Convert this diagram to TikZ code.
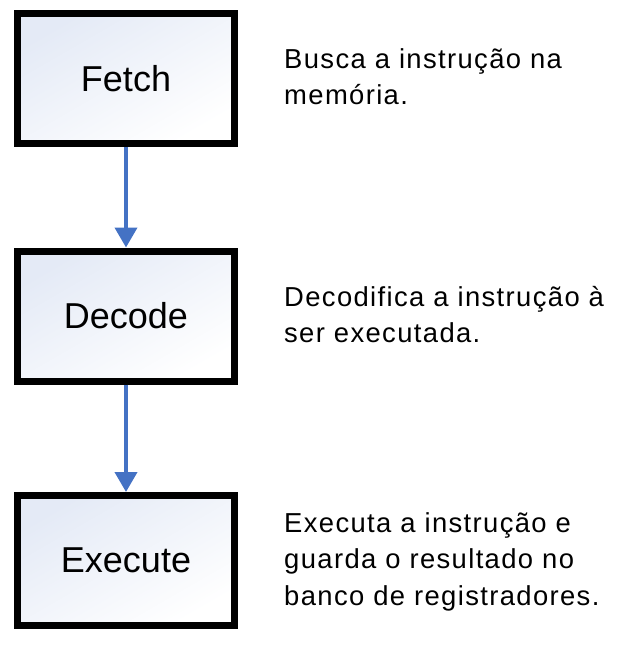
\documentclass[tikz,border=0pt]{standalone}
\usepackage{fontspec}
\setmainfont{Liberation Sans}
\newfontfamily\descfont[LetterSpace=5]{Liberation Sans}
\usetikzlibrary{arrows.meta}
\definecolor{arrowblue}{RGB}{68,114,196}
\definecolor{boxtint}{RGB}{228,234,246}
\begin{document}
\begin{tikzpicture}[x=1pt,y=-1pt,
  stagebox/.style={draw=black, line width=7pt, minimum width=217pt, minimum height=130pt,
    inner sep=0pt, shading=axis, top color=boxtint, bottom color=white, shading angle=30,
    font=\fontsize{36}{43}\selectfont},
  desc/.style={anchor=base west, inner sep=0pt, align=left, font=\descfont\fontsize{27.4}{36.5}\selectfont},
  flow/.style={draw=arrowblue, line width=4pt, -{Triangle[width=22pt,length=20pt]}}]
\useasboundingbox (0,0) rectangle (626,645);
\node[stagebox] (fetch) at (126,78.5) {Fetch};
\node[stagebox] (decode) at (126,316) {Decode};
\node[stagebox] (execute) at (126,560.5) {Execute};
\draw[flow] (fetch.south) -- (decode.north);
\draw[flow] (decode.south) -- (execute.north);
\node[desc] (dfetch) at (284,104.5) {Busca a instrução na\\memória.};
\node[desc] (ddecode) at (284,342.5) {Decodifica a instrução à\\ser executada.};
\node[desc] (dexecute) at (284,605) {Executa a instrução e\\guarda o resultado no\\banco de registradores.};
\end{tikzpicture}
\end{document}
